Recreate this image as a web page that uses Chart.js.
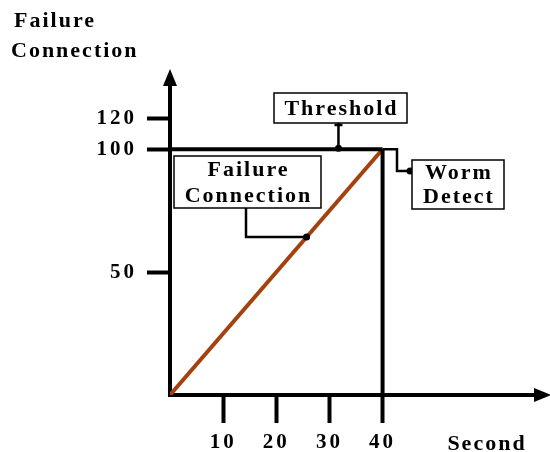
<!DOCTYPE html>
<html>
<head>
<meta charset="utf-8">
<script src="https://cdn.jsdelivr.net/npm/chart.js@4"></script>
<style>
  html, body { margin: 0; background: #fff; }
  #wrap { width: 550px; height: 452px; }
</style>
</head>
<body>
<div id="wrap"><canvas id="chart"></canvas></div>
<script>
// data
const seconds = [0, 40];
const failures = [0, 100];
const threshold = 100;
const detectAt = 40;
const xTicks = [10, 20, 30, 40];
const yTickLabels = ['50', '100', '120'];
// the source squeezes its "120" tick close to 100, so it sits a bit lower than 120
const yTickAt = [50, 100, 112.5];

const serif = '"Liberation Serif", "DejaVu Serif", serif';
const brown = '#a3410f';

function box(ctx, x, y, w, h, lines) {
  ctx.save();
  ctx.fillStyle = '#fff';
  ctx.fillRect(x, y, w, h);
  ctx.lineWidth = 1.5;
  ctx.strokeStyle = '#000';
  ctx.strokeRect(x, y, w, h);
  ctx.fillStyle = '#000';
  ctx.font = 'bold 22px ' + serif;
  ctx.letterSpacing = '2px';
  ctx.textAlign = 'center';
  ctx.textBaseline = 'middle';
  const step = h / lines.length;
  lines.forEach((t, i) => ctx.fillText(t, x + w / 2 + 1, y + step * (i + 0.5) + 1));
  ctx.restore();
}

function dot(ctx, x, y) {
  ctx.beginPath();
  ctx.arc(x, y, 3.5, 0, Math.PI * 2);
  ctx.fill();
}

const decor = {
  id: 'decor',
  beforeDraw(chart) {
    chart.ctx.letterSpacing = '3px';
  },
  afterDraw(chart) {
    const ctx = chart.ctx;
    const xs = chart.scales.x, ys = chart.scales.y;
    const px = v => xs.getPixelForValue(v), py = v => ys.getPixelForValue(v);
    const L = chart.chartArea.left, B = chart.chartArea.bottom;
    ctx.save();
    ctx.fillStyle = '#000';
    ctx.strokeStyle = '#000';

    // arrow heads
    ctx.beginPath();
    ctx.moveTo(L, 69); ctx.lineTo(L - 7, 86); ctx.lineTo(L + 7, 86); ctx.closePath(); ctx.fill();
    ctx.beginPath();
    ctx.moveTo(551, B); ctx.lineTo(534, B - 7); ctx.lineTo(534, B + 7); ctx.closePath(); ctx.fill();

    // axis titles
    ctx.letterSpacing = '2px';
    ctx.font = 'bold 22px ' + serif;
    ctx.textBaseline = 'middle';
    ctx.textAlign = 'left';
    ctx.fillText('Failure', 14, 21);
    ctx.fillText('Connection', 11, 51);
    ctx.textAlign = 'center';
    ctx.fillText('Second', 487, 444);

    // connectors
    ctx.lineWidth = 2.5;
    const tx = px(31.7), ty = py(threshold);
    ctx.beginPath(); ctx.moveTo(tx, 123); ctx.lineTo(tx, ty); ctx.stroke();
    ctx.beginPath(); ctx.moveTo(tx - 4, 125); ctx.lineTo(tx + 4, 125); ctx.stroke();
    dot(ctx, tx, ty - 1);

    const wx = px(detectAt), wy = py(threshold);
    ctx.beginPath(); ctx.moveTo(wx, wy); ctx.lineTo(397, wy); ctx.lineTo(397, 171); ctx.lineTo(412, 171); ctx.stroke();
    dot(ctx, 410, 171);

    const fx = px(25.7), fy = py(25.7 * failures[1] / seconds[1]);
    ctx.beginPath(); ctx.moveTo(246, 208); ctx.lineTo(246, fy); ctx.lineTo(fx, fy); ctx.stroke();
    dot(ctx, fx, fy);
    ctx.restore();

    box(ctx, 274, 93, 133, 30, ['Threshold']);
    box(ctx, 412, 160, 92, 49, ['Worm', 'Detect']);
    box(ctx, 174, 156, 147, 52, ['Failure', 'Connection']);
  }
};

new Chart(document.getElementById('chart'), {
  type: 'line',
  data: {
    datasets: [{
      data: [{ x: 0, y: threshold }, { x: detectAt, y: threshold }],
      borderColor: '#000',
      borderWidth: 4,
      pointRadius: 0
    }, {
      data: [{ x: detectAt, y: 0 }, { x: detectAt, y: threshold }],
      borderColor: '#000',
      borderWidth: 4,
      pointRadius: 0
    }, {
      data: seconds.map((s, i) => ({ x: s, y: failures[i] })),
      borderColor: brown,
      borderWidth: 4,
      pointRadius: 0
    }]
  },
  options: {
    responsive: true,
    maintainAspectRatio: false,
    animation: false,
    layout: { padding: { top: 78, right: 8, left: 0, bottom: 0 } },
    plugins: { legend: { display: false }, tooltip: { enabled: false } },
    scales: {
      x: {
        type: 'linear',
        min: 0,
        max: 70,
        afterBuildTicks: s => { s.ticks = xTicks.map(v => ({ value: v })); },
        afterFit: s => { s.height = 57; },
        ticks: { color: '#000', font: { family: serif, size: 21, weight: 'bold' }, padding: 7, maxRotation: 0, autoSkip: false },
        grid: { drawOnChartArea: false, tickLength: 28, tickWidth: 4, tickColor: '#000' },
        border: { color: '#000', width: 4 }
      },
      y: {
        type: 'linear',
        min: 0,
        max: 129,
        afterBuildTicks: s => { s.ticks = yTickAt.map(v => ({ value: v })); },
        afterFit: s => { s.width = 170; },
        ticks: { color: '#000', font: { family: serif, size: 21, weight: 'bold' }, padding: 10, autoSkip: false,
          callback: (v, i) => yTickLabels[i] },
        grid: { drawOnChartArea: false, tickLength: 23, tickWidth: 4, tickColor: '#000' },
        border: { color: '#000', width: 4 }
      }
    }
  },
  plugins: [decor]
});
</script>
</body>
</html>
